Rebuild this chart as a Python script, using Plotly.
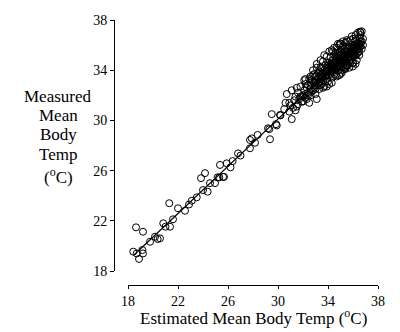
import plotly.graph_objects as go

# Sparse low-range points (estimated, measured)
low_x = [18.42, 18.7, 18.88, 19.15, 19.2, 18.64, 19.2, 19.76, 20.16, 20.37, 20.56, 20.82, 21.0, 21.36,
         21.3, 21.6, 22.0, 22.56, 22.88, 23.1, 23.5, 23.84, 24.0, 24.37, 24.16, 24.56, 24.96, 25.17,
         25.6, 25.36, 25.9, 26.2, 26.37, 25.68, 25.3, 26.8, 27.0, 27.76, 27.9, 28.16, 28.37, 27.76,
         29.36, 29.3, 29.5, 30.16, 29.84, 31.1, 29.2, 29.9]
low_y = [19.54, 19.4, 18.96, 19.67, 19.4, 21.48, 21.13, 20.33, 20.73, 20.55, 20.6, 21.8, 21.53, 21.53,
         23.4, 22.12, 23.0, 22.8, 23.3, 23.6, 23.87, 25.4, 24.45, 24.32, 25.8, 25.0, 25.0, 25.46,
         25.5, 26.45, 26.58, 26.26, 26.76, 25.5, 25.46, 27.37, 27.2, 28.44, 28.57, 28.22, 28.84, 27.78,
         28.5, 29.3, 30.5, 30.43, 29.7, 30.1, 29.37, 29.6]

# Dense high-range cluster
hi_x = [30.2, 30.5, 30.7, 30.9, 31.0, 31.1, 31.3, 31.4, 31.5, 31.6, 31.7, 31.8, 31.9, 32.0, 32.1, 32.2,
        32.3, 32.4, 32.5, 32.5, 32.6, 32.7, 32.8, 32.8, 32.9, 33.0, 33.0, 33.1, 33.1, 33.2, 33.2, 33.3,
        33.4, 33.4, 33.5, 33.5, 33.6, 33.6, 33.7, 33.7, 33.8, 33.8, 33.9, 33.9, 34.0, 34.0, 34.0, 34.1,
        34.1, 34.2, 34.2, 34.2, 34.3, 34.3, 34.4, 34.4, 34.4, 34.5, 34.5, 34.5, 34.6, 34.6, 34.7, 34.7,
        34.7, 34.8, 34.8, 34.8, 34.9, 34.9, 34.9, 35.0, 35.0, 35.0, 35.0, 35.1, 35.1, 35.1, 35.2, 35.2,
        35.2, 35.3, 35.3, 35.3, 35.4, 35.4, 35.4, 35.5, 35.5, 35.5, 35.6, 35.6, 35.6, 35.7, 35.7, 35.8,
        35.8, 35.8, 35.9, 35.9, 36.0, 36.0, 36.0, 36.1, 36.1, 36.2, 36.2, 36.2, 36.3, 36.3, 36.4, 36.4,
        36.4, 36.5, 36.5, 36.6, 36.6, 36.7, 36.7, 36.8,
        33.0, 33.2, 33.4, 33.6, 33.8, 34.0, 34.2, 34.3, 34.4, 34.6, 34.6, 34.8, 34.9, 35.0, 35.1, 35.2,
        35.3, 35.4, 35.5, 35.6, 35.7, 35.8, 35.9, 36.0, 36.1, 36.2, 36.3, 36.4, 36.5, 36.6, 34.1, 33.9,
        33.5, 33.3, 32.9, 32.7, 32.4, 32.2, 32.0, 31.8, 31.6, 31.5, 31.2, 30.9, 30.6, 31.4, 32.1, 32.3,
        32.6, 33.0, 33.3, 33.6, 33.9, 34.3, 34.7, 35.1, 35.4, 35.7, 36.0, 36.3, 36.5, 36.7, 36.8, 36.6,
        36.2, 35.9, 35.5, 35.2, 34.8, 34.5, 34.1, 33.7, 33.4, 33.1, 32.8, 32.6, 32.2, 33.2, 34.96, 36.56,
        36.0, 35.5,
        32.0, 32.2, 32.4, 32.6, 32.8, 33.0, 33.1, 33.3, 33.5, 33.6, 33.8, 33.9, 34.0, 34.1, 34.2, 34.3,
        34.4, 34.5, 34.6, 34.7, 34.8, 34.9, 35.0, 35.1, 35.2, 35.3, 35.4, 35.5, 35.6, 35.7, 35.8, 35.9,
        36.0, 36.1, 36.2, 36.3, 36.4, 36.5, 36.6, 34.5, 34.3, 34.9, 35.3, 34.0, 33.7, 35.6, 35.0, 34.6,
        33.4, 32.9]
hi_y = [30.4, 30.9, 32.1, 31.4, 31.2, 32.4, 31.6, 31.9, 31.1, 32.2, 31.7, 32.7, 31.5, 32.0, 32.4, 31.8,
        32.6, 32.2, 31.4, 33.3, 32.8, 32.3, 34.0, 33.1, 32.6, 33.5, 32.1, 31.7, 34.5, 33.0, 33.8, 32.5,
        33.3, 34.2, 32.9, 33.7, 34.7, 33.2, 34.0, 32.7, 33.5, 34.4, 35.1, 33.9, 33.1, 34.6, 33.6, 34.1,
        32.9, 35.0, 33.8, 34.4, 35.6, 33.4, 34.8, 34.0, 35.5, 33.7, 34.5, 35.2, 34.2, 33.6, 35.0, 34.7,
        35.8, 34.0, 34.4, 35.4, 33.6, 34.9, 36.0, 34.3, 35.2, 33.7, 36.1, 34.7, 35.6, 34.0, 34.3, 35.0,
        35.9, 34.6, 34.1, 35.4, 34.2, 36.2, 35.1, 34.4, 34.9, 35.7, 34.4, 35.3, 36.3, 34.8, 35.9, 34.6,
        35.5, 36.4, 35.0, 35.8, 34.6, 35.4, 36.5, 35.1, 36.0, 34.5, 35.6, 36.4, 35.9, 35.3, 36.2, 35.4,
        37.0, 36.6, 35.8, 36.3, 36.8, 36.3, 37.1, 36.5,
        33.0, 33.4, 33.6, 33.8, 33.9, 34.2, 34.0, 34.6, 34.3, 34.8, 35.4, 35.0, 34.6, 34.8, 35.3, 34.7,
        35.0, 35.5, 35.2, 35.0, 35.3, 35.1, 35.4, 35.8, 35.5, 35.9, 36.1, 35.7, 36.1, 35.9, 33.6, 33.3,
        34.1, 33.9, 33.7, 33.2, 32.8, 32.9, 31.5, 31.9, 31.3, 32.6, 31.0, 30.7, 31.4, 30.8, 33.2, 31.7,
        32.0, 32.5, 32.8, 32.6, 32.7, 33.0, 33.5, 33.8, 34.1, 34.2, 34.3, 34.8, 35.2, 35.7, 36.0, 37.0,
        36.8, 36.7, 36.4, 36.3, 36.1, 35.8, 35.5, 35.2, 34.8, 34.2, 33.6, 33.5, 33.3, 32.95, 36.14, 37.07,
        34.55, 34.4,
        31.9, 32.1, 32.0, 32.5, 32.4, 32.8, 33.1, 33.1, 33.3, 33.5, 33.6, 33.7, 33.9, 34.3, 34.1, 34.0,
        34.5, 34.2, 34.5, 34.3, 34.7, 34.3, 34.6, 34.9, 35.2, 34.8, 34.8, 35.0, 35.5, 35.1, 35.3, 35.6,
        35.2, 35.8, 35.2, 35.6, 35.9, 35.5, 36.1, 34.0, 34.3, 35.2, 35.7, 34.4, 33.7, 35.7, 35.5, 35.1,
        33.5, 33.0]

# Fitted line end points
fit_x = [18.5, 36.8]
fit_y = [19.3, 36.5]

x_ticks = [18, 22, 26, 30, 34, 38]
y_ticks = [18, 22, 26, 30, 34, 38]

y_title_lines = ["Measured", "Mean", "Body", "Temp", "(<sup>o</sup>C)"]
y_title_px = [96, 115, 134, 154, 176]

FONT = "Liberation Serif, Times New Roman, serif"

fig = go.Figure()
fig.add_trace(go.Scatter(x=low_x + hi_x, y=low_y + hi_y, mode="markers",
                         marker=dict(symbol="circle-open", size=7, color="black",
                                     line=dict(width=1, color="black")),
                         showlegend=False, hoverinfo="skip"))
fig.add_trace(go.Scatter(x=fit_x, y=fit_y, mode="lines",
                         line=dict(color="black", width=1.2), showlegend=False))

W, H = 400, 332
ml, mr, mt, mb = 114, 22, 20, 47
pw = W - ml - mr
ph = H - mt - mb

annotations = [
    dict(text=t, xref="paper", yref="paper",
         x=(58 - ml) / pw, y=(H - mb - py) / ph, xanchor="center", yanchor="middle",
         showarrow=False, font=dict(size=17, family=FONT, color="black"))
    for t, py in zip(y_title_lines, y_title_px)
]
annotations.append(
    dict(text="Estimated Mean Body Temp (<sup>o</sup>C)", xref="paper", yref="paper",
         x=(253 - ml) / pw, y=(H - mb - 317) / ph, xanchor="center", yanchor="middle",
         showarrow=False, font=dict(size=17, family=FONT, color="black")))

fig.update_layout(
    width=W, height=H,
    margin=dict(l=ml, r=mr, t=mt, b=mb),
    paper_bgcolor="white", plot_bgcolor="white",
    font=dict(family=FONT, size=14, color="black"),
    xaxis=dict(range=[18, 38], domain=[14 / pw, 1], anchor="free", position=0,
               tickvals=x_ticks, ticktext=[str(v) for v in x_ticks],
               showgrid=False, zeroline=False, showline=True, linecolor="black", linewidth=1,
               ticks="outside", ticklen=3, tickcolor="black", tickfont=dict(size=14)),
    yaxis=dict(range=[18, 38], domain=[14 / ph, 1], anchor="free", position=0,
               tickvals=y_ticks, ticktext=[str(v) for v in y_ticks],
               showgrid=False, zeroline=False, showline=True, linecolor="black", linewidth=1,
               ticks="outside", ticklen=4, tickcolor="black", tickfont=dict(size=14)),
    annotations=annotations,
)

fig.write_html("out.html")
